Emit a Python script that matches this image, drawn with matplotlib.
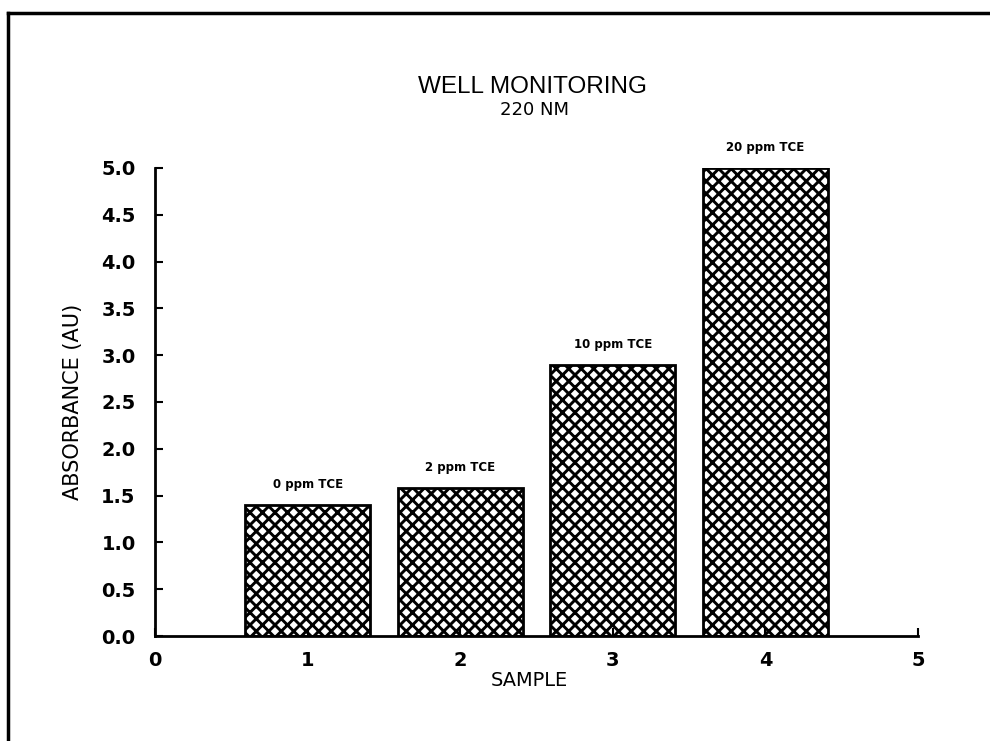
import matplotlib
matplotlib.use('Agg')
import matplotlib.pyplot as plt
from matplotlib.lines import Line2D

samples = [1, 2, 3, 4]
absorbance = [1.40, 1.58, 2.90, 5.00]
bar_labels = ['0 ppm TCE', '2 ppm TCE', '10 ppm TCE', '20 ppm TCE']
xticks = [0, 1, 2, 3, 4, 5]
yticks = [0.0, 0.5, 1.0, 1.5, 2.0, 2.5, 3.0, 3.5, 4.0, 4.5, 5.0]

# figure is drawn at 75 dpi so the crosshatch comes out at the
# ~12 px pitch of the original; S converts sizes picked for 100 dpi
DPI = 75
S = 100 / DPI

plt.rcParams['font.family'] = ['DejaVu Sans']
plt.rcParams['hatch.linewidth'] = 2.8

fig = plt.figure(figsize=(990 / DPI, 741 / DPI), dpi=DPI)
ax = fig.add_axes([0.1566, 0.1417, 0.7707, 0.6316])

ax.bar(samples, absorbance, width=0.82, facecolor='white', edgecolor='black',
       hatch='xx', linewidth=2 * S)

for x, y, lab in zip(samples, absorbance, bar_labels):
    ax.annotate(lab, (x, y), xytext=(0, 10 * S), textcoords='offset points',
                ha='center', va='bottom', fontsize=8.5 * S, fontweight='bold')

ax.set_xlim(0, 5)
ax.set_ylim(0, 5)
ax.set_xticks(xticks)
ax.set_xticklabels([str(t) for t in xticks], fontsize=14 * S, fontweight='bold')
ax.set_yticks(yticks)
ax.set_yticklabels(['%.1f' % t for t in yticks], fontsize=14 * S, fontweight='bold')
ax.tick_params(direction='in', length=6 * S, width=1.5 * S)
ax.tick_params(axis='y', pad=14 * S)
ax.tick_params(axis='x', pad=11 * S)

for s in ['top', 'right']:
    ax.spines[s].set_visible(False)
for s in ['left', 'bottom']:
    ax.spines[s].set_linewidth(2 * S)

ax.set_ylabel('ABSORBANCE (AU)', fontsize=15 * S)
ax.yaxis.set_label_coords(-0.095, 0.5)
ax.set_xlabel('SAMPLE', fontsize=14 * S)
ax.xaxis.set_label_coords(0.49, -0.075)

fig.text(0.538, 0.883, 'WELL MONITORING', ha='center', va='center',
         fontsize=17.5 * S, family='Liberation Sans')
fig.text(0.540, 0.851, '220 NM', ha='center', va='center', fontsize=13 * S)

# page frame
fig.add_artist(Line2D([0.008, 0.008], [0.0, 0.982], color='black', lw=2.5 * S))
fig.add_artist(Line2D([0.008, 1.0], [0.982, 0.982], color='black', lw=2.5 * S))

fig.savefig('out.png', dpi=DPI)
